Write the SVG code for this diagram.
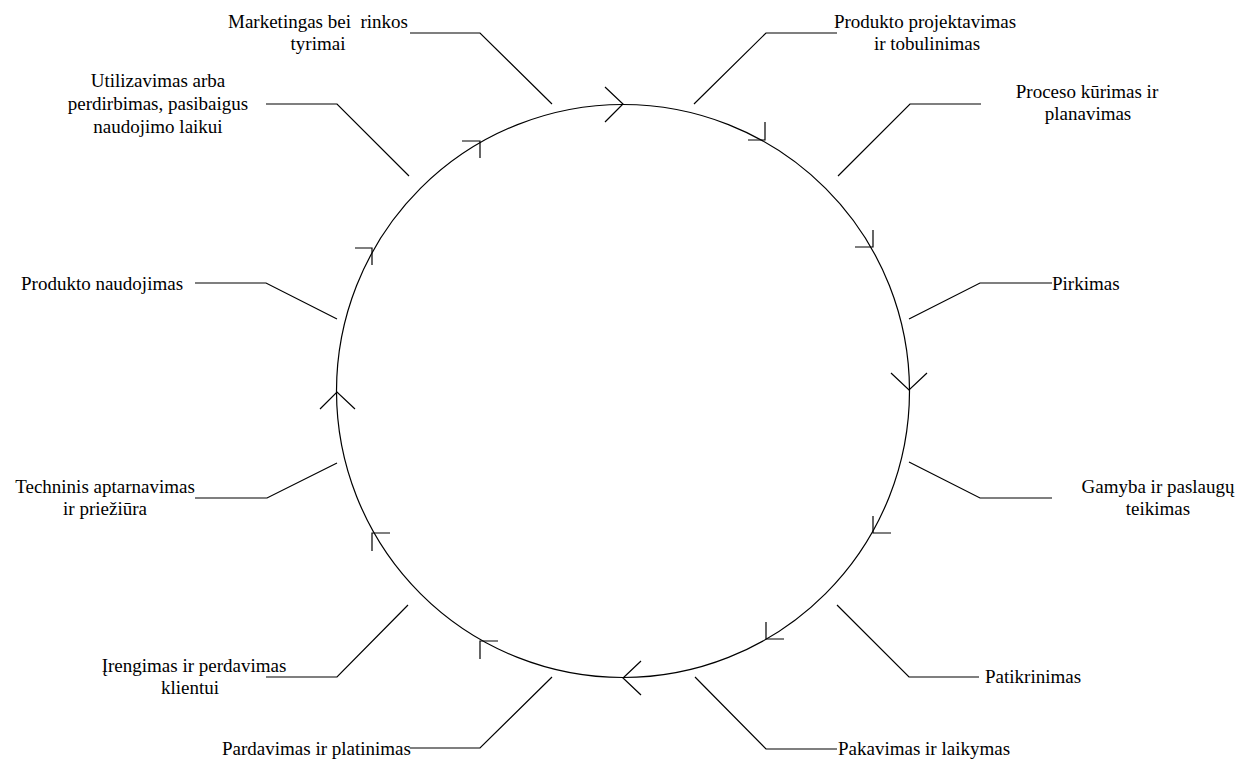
<svg xmlns="http://www.w3.org/2000/svg" width="1240" height="759" viewBox="0 0 1240 759">
<style>
.ln{fill:none;stroke:#000;stroke-width:1.2}
.t{font-family:"Liberation Serif","Times New Roman",serif;font-size:19px;fill:#000}
.c{text-anchor:middle}
</style>
<rect width="1240" height="759" fill="#fff"/>
<g id="cycle">
<circle class="ln" cx="623" cy="391" r="286.5"/>
<path class="ln" d="M605,87 L623,104 L605,122"/>
<path class="ln" d="M891,373 L909,390 L927,373"/>
<path class="ln" d="M641,661 L623,678 L641,695"/>
<path class="ln" d="M320,409 L337,392 L355,409"/>
<path class="ln" d="M748,140 H765 V122"/>
<path class="ln" d="M855,247 H873 V230"/>
<path class="ln" d="M873,516 V533 H891"/>
<path class="ln" d="M766,622 V639 H784"/>
<path class="ln" d="M498,641 H480 V659"/>
<path class="ln" d="M390,533 H372 V551"/>
<path class="ln" d="M355,248 H372 V265"/>
<path class="ln" d="M462,141 H480 V158"/>
</g>
<g id="connectors">
<path class="ln" d="M410,33 H480 L552,104"/>
<path class="ln" d="M694,104 L766,33 H837"/>
<path class="ln" d="M838,176 L910,104 H981"/>
<path class="ln" d="M909,319 L980,283 H1052"/>
<path class="ln" d="M909,462 L980,498 H1052"/>
<path class="ln" d="M837,605 L909,677 H979"/>
<path class="ln" d="M695,677 L766,749 H837"/>
<path class="ln" d="M552,677 L480,748 H410"/>
<path class="ln" d="M408,605 L337,677 H266"/>
<path class="ln" d="M337,463 L267,498 H195"/>
<path class="ln" d="M337,319 L266,283 H195"/>
<path class="ln" d="M409,176 L337,104 H266"/>
</g>
<g id="n1"><text class="t c" x="318" y="28" xml:space="preserve">Marketingas bei  rinkos</text><text class="t c" x="318" y="50">tyrimai</text></g>
<g id="n2"><text class="t c" x="925" y="28">Produkto projektavimas</text><text class="t c" x="927" y="50">ir tobulinimas</text></g>
<g id="n3"><text class="t c" x="1087" y="98">Proceso kūrimas ir</text><text class="t c" x="1088" y="120">planavimas</text></g>
<g id="n4"><text class="t" x="1052" y="290">Pirkimas</text></g>
<g id="n5"><text class="t c" x="1158" y="493">Gamyba ir paslaugų</text><text class="t c" x="1158" y="515">teikimas</text></g>
<g id="n6"><text class="t" x="985" y="683">Patikrinimas</text></g>
<g id="n7"><text class="t" x="838" y="755">Pakavimas ir laikymas</text></g>
<g id="n8"><text class="t" x="222" y="755">Pardavimas ir platinimas</text></g>
<g id="n9"><text class="t c" x="194" y="672">Įrengimas ir perdavimas</text><text class="t c" x="190" y="694">klientui</text></g>
<g id="n10"><text class="t c" x="105" y="493">Techninis aptarnavimas</text><text class="t c" x="105" y="515">ir priežiūra</text></g>
<g id="n11"><text class="t" x="21" y="290">Produkto naudojimas</text></g>
<g id="n12"><text class="t c" x="158" y="87">Utilizavimas arba</text><text class="t c" x="158" y="110">perdirbimas, pasibaigus</text><text class="t c" x="158" y="133">naudojimo laikui</text></g>
</svg>
